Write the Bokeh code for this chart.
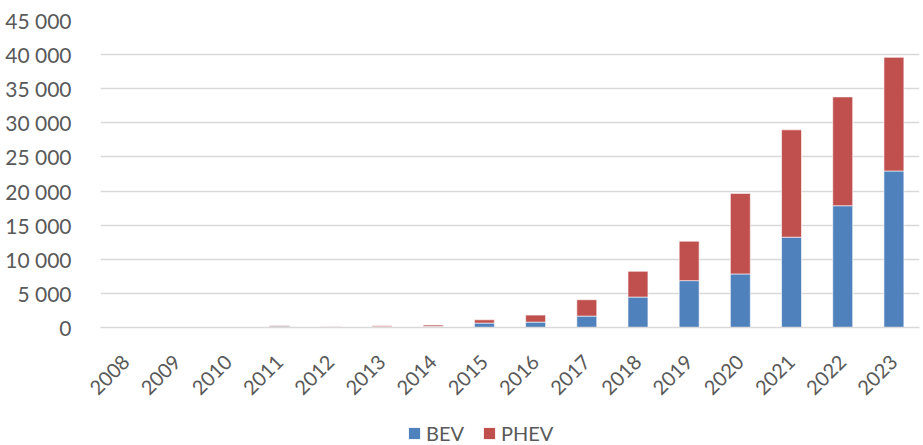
from math import pi
from bokeh.plotting import figure
from bokeh.layouts import column
from bokeh.models import Range1d, FactorRange, FixedTicker, Legend, LegendItem
from bokeh.embed import file_html
from bokeh.resources import INLINE

years = [str(y) for y in range(2008, 2024)]
bev = [0, 0, 5, 200, 60, 100, 150, 650, 790, 1670, 4460, 6870, 7850, 13240, 17850, 22940]
phev = [0, 0, 5, 100, 40, 150, 200, 480, 1030, 2400, 3780, 5780, 11810, 15730, 15950, 16660]
y_ticks = [0, 5000, 10000, 15000, 20000, 25000, 30000, 35000, 40000, 45000]
series = ["BEV", "PHEV"]
colors = ["#4F81BD", "#C0504D"]

FONT = "Lato"
TXT = "#595959"
GRID = "#D9D9D9"

data = {"year": years, "BEV": bev, "PHEV": phev}

p = figure(width=920, height=405, x_range=FactorRange(*years, range_padding=0),
           y_range=Range1d(0, 45000), output_backend="svg", toolbar_location=None,
           min_border_left=100, min_border_right=1, min_border_top=20, min_border_bottom=78)
p.outline_line_color = None

rs = p.vbar_stack(series, x="year", width=0.39, source=data, color=colors,
                  line_color="white", line_alpha=0.6, line_width=1)

p.xgrid.grid_line_color = None
p.ygrid.grid_line_color = GRID
p.ygrid.grid_line_width = 1.5
p.ygrid.ticker = FixedTicker(ticks=y_ticks)

p.yaxis.ticker = FixedTicker(ticks=y_ticks)
p.yaxis.major_label_overrides = {t: f"{t:,}".replace(",", " ") for t in y_ticks}
p.yaxis.axis_line_color = None
p.yaxis.major_tick_line_color = None
p.yaxis.minor_tick_line_color = None
p.yaxis.major_label_text_font = FONT
p.yaxis.major_label_text_font_size = "21px"
p.yaxis.major_label_text_color = TXT
p.yaxis.major_label_standoff = 23

p.xaxis.axis_line_color = GRID
p.xaxis.axis_line_width = 1.5
p.xaxis.major_tick_line_color = None
p.xaxis.minor_tick_line_color = None
p.xaxis.major_label_orientation = pi / 4
p.xaxis.major_label_text_font = FONT
p.xaxis.major_label_text_font_size = "20px"
p.xaxis.major_label_text_color = TXT
p.xaxis.major_label_standoff = 25

# legend strip below the chart (its bars have no visible extent)
lf = figure(width=920, height=40, x_range=FactorRange(*years), y_range=Range1d(-2e6, -1e6),
            x_axis_type=None, y_axis_type=None, output_backend="svg", toolbar_location=None,
            min_border=0, min_border_left=0, min_border_right=0, min_border_top=0,
            min_border_bottom=0)
lf.outline_line_color = None
lrs = lf.vbar_stack(series, x="year", width=0.0001, source=data, fill_color=colors,
                    line_alpha=0)

legend = Legend(items=[LegendItem(label=s, renderers=[r]) for s, r in zip(series, lrs)],
                orientation="horizontal", location=(307, 0))
legend.label_text_font = FONT
legend.label_text_font_size = "20px"
legend.label_text_color = TXT
legend.glyph_width = 14
legend.glyph_height = 14
legend.label_standoff = 5
legend.spacing = 18
legend.border_line_color = None
legend.background_fill_alpha = 0
legend.margin = 0
legend.padding = 0
lf.add_layout(legend, "center")

layout = column(p, lf, spacing=0)
open("out.html", "w").write(file_html(layout, INLINE))
